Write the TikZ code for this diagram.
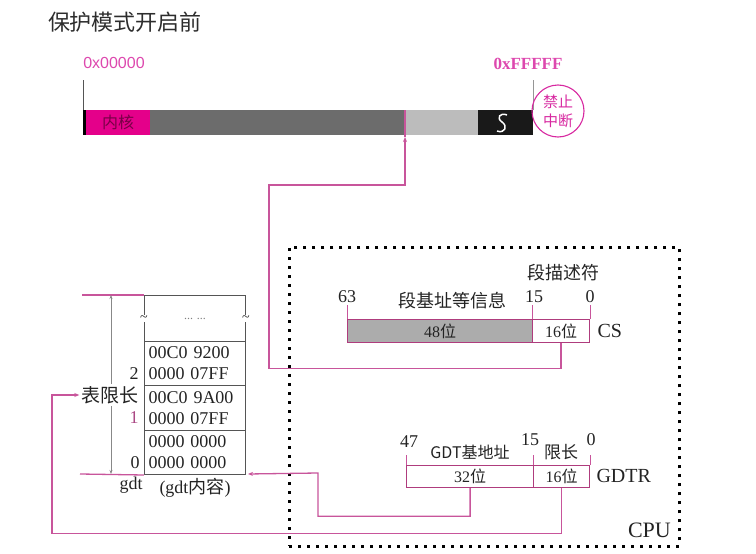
\documentclass[tikz,border=0pt]{standalone}
\usepackage{fontspec}
\setmainfont{Liberation Serif}
\newfontfamily\cjk{Noto Sans CJK SC}
\newfontfamily\lsans{Liberation Sans}
\usetikzlibrary{arrows.meta,calc}

\definecolor{ink}{RGB}{35,35,35}
\definecolor{conn}{RGB}{200,85,155}
\definecolor{regline}{RGB}{175,60,125}
\definecolor{mag}{RGB}{215,40,160}
\definecolor{kern}{RGB}{228,0,138}
\definecolor{kerntext}{RGB}{120,0,70}
\definecolor{darkbar}{RGB}{108,108,108}
\definecolor{lightbar}{RGB}{188,188,188}
\definecolor{regfill}{RGB}{172,172,172}
\definecolor{grid}{RGB}{85,85,85}

\newcommand{\fs}[1]{\fontsize{#1}{#1}\selectfont}

\tikzset{
  barseg/.style={draw=none, inner sep=0pt, minimum height=25pt, anchor=north west},
  regbox/.style={draw=regline, line width=1.2pt, inner sep=0pt, minimum height=23pt, anchor=north west, font=\fs{16}},
  row/.style={draw=grid, line width=1pt, inner xsep=4pt, inner ysep=0pt, minimum width=101pt, anchor=north west,
              align=left, text width=93pt, font=\fs{18}},
  conn/.style={draw=conn, line width=1.3pt},
  tip/.style={-{Stealth[length=5pt,width=4pt]}},
  tick/.style={draw=conn, line width=0.7pt},
  lbl/.style={inner sep=1pt, font=\fs{18}, text=ink},
  cpubox/.style={draw=black, line width=2.6pt, dash pattern=on 3pt off 6pt, inner sep=0pt, anchor=north west},
}

\begin{document}
\begin{tikzpicture}[x=1pt, y=-1pt, text=ink]
\useasboundingbox (0,0) rectangle (756,554);

% title
\node[font=\cjk\fs{22}, text={rgb,255:red,45;green,45;blue,45}] (title) at (125,22) {保护模式开启前};

% real-mode memory bar
\node[barseg, fill=black, minimum width=3pt] (b0) at (83,110) {};
\node[barseg, fill=kern, minimum width=64pt, font=\cjk\fs{16}, text=kerntext] (kernel) at (86,110) {内核};
\node[barseg, fill=darkbar, minimum width=256pt] (low) at (150,110) {};
\node[barseg, fill=lightbar, minimum width=72pt] (high) at (406,110) {};
\node[barseg, fill=black!90, minimum width=55pt] (topseg) at (478,110) {};
\draw[white, line width=1.5pt] (507,115) .. controls (500,112) and (496,118) .. (502,122)
      .. controls (508,126) and (505,134) .. (497,131);

% bar end markers
\node[font=\lsans\fs{16}, text=mag!85!white] (lo) at (114,63) {0x00000};
\node[font=\bfseries\fs{17}, text=mag!85!white] (hi) at (528,64) {0xFFFFF};
\draw[grid, line width=1pt] (b0.north west) -- ++(0,-30);
\draw[lightbar!80!black, line width=0.9pt] (topseg.north east) -- ++(0,-30);

% interrupts disabled stamp
\node[circle, draw=mag, line width=1.1pt, minimum size=52pt, inner sep=0pt, align=center,
      text=mag, font=\cjk\fontsize{15}{19}\selectfont] (nmi) at (558,111) {禁止\\中断};

% segment start inside the bar
\coordinate (entry) at (405,137);
\draw[conn] (405,110) -- (entry);

% CPU boundary
\node[cpubox, minimum width=390pt, minimum height=299pt] (cpu) at (288,246) {};
\node[font=\fs{22}, anchor=south east, inner sep=0pt] (cpulbl) at (671,538) {CPU};

% CS register
\node[regbox, fill=regfill, minimum width=185pt] (cs48) at (347,319) {48{\cjk 位}};
\node[regbox, fill=white, minimum width=57pt] (cs16) at (532,319) {16{\cjk 位}};
\node[font=\fs{20}, anchor=west] (csname) at (594,331) {CS};
\draw[tick] (cs48.north west) -- ++(0,-14);
\draw[tick] (cs16.north west) -- ++(0,-14);
\draw[tick] (cs16.north east) -- ++(0,-14);
\node[lbl] (cs63) at (347,297) {63};
\node[lbl] (cs15) at (534,297) {15};
\node[lbl] (cs0) at (590,297) {0};
\node[font=\cjk\fs{18}] (csinfo) at (452,301) {段基址等信息};
\node[font=\cjk\fs{18}] (csdesc) at (563,273) {段描述符};

% GDTR register
\node[regbox, fill=white, minimum width=127pt, minimum height=22pt] (g32) at (406,465) {32{\cjk 位}};
\node[regbox, fill=white, minimum width=56pt, minimum height=22pt] (g16) at (533,465) {16{\cjk 位}};
\node[font=\fs{20}, anchor=west] (gname) at (593,476) {GDTR};
\draw[tick] (g32.north west) -- ++(0,-10);
\draw[tick] (g16.north west) -- ++(0,-10);
\draw[tick] (g16.north east) -- ++(0,-10);
\node[lbl] (g47) at (409,442) {47};
\node[lbl] (g15) at (530,440) {15};
\node[lbl] (g0) at (591,440) {0};
\node[font=\cjk\fs{16}] (gbase) at (470,452) {GDT基地址};
\node[font=\cjk\fs{17}] (glim) at (561,452) {限长};

% GDT in memory
\node[row, minimum height=46pt] (topsec) at (144,295) {};
\node[row, minimum height=44pt] (row2) at (144,341) {00C0 9200\\[3pt]0000 07FF};
\node[row, minimum height=45pt] (row1) at (144,385) {00C0 9A00\\[3pt]0000 07FF};
\node[row, minimum height=44pt] (row0) at (144,430) {0000 0000\\[3pt]0000 0000};
\node[fill=white, inner sep=0.5pt, font=\fs{14}] (tl) at (topsec.west) {\textasciitilde};
\node[fill=white, inner sep=0.5pt, font=\fs{14}] (tr) at (topsec.east) {\textasciitilde};
\node[font=\fs{12}, text=gray] (dots) at (topsec.center) {... ...};
\node[lbl] (i2) at (134,374) {2};
\node[lbl, text=conn!85!black] (i1) at (134,418) {1};
\node[lbl] (i0) at (135,463) {0};
\node[lbl] (gdtname) at (131,485) {gdt};
\node[font=\fs{18}] (gdtcont) at (195,488) {(gdt{\cjk 内容})};

% table size marker
\coordinate (limtop) at (82,295);
\coordinate (limbot) at (80,474);
\draw[conn] (limtop) -- (topsec.north west);
\draw[conn] (limbot) -- (row0.south west);
\draw[grid!70!white, line width=0.9pt, {Stealth[length=4pt,width=3pt]}-{Stealth[length=4pt,width=3pt]}]
  (111,295) -- (111,474);
\node[fill=white, inner sep=2pt, font=\cjk\fs{19}] (lim) at (110,395) {表限长};

% connectors
\coordinate (csbend) at (269,185);
\draw[conn, tip] (cs16.south) -- ++(0,25) -| (csbend) -| (entry);

\coordinate (gbend) at (318,473);
\draw[conn, tip] (g32.south) -- ++(0,28) -| (gbend) -- ($(row0.south east)+(2,-1)$);

\coordinate (lback) at (52,395);
\draw[conn, tip] (g16.south) -- ++(0,45) -| (lback) -- (lim.west);
\end{tikzpicture}
\end{document}
